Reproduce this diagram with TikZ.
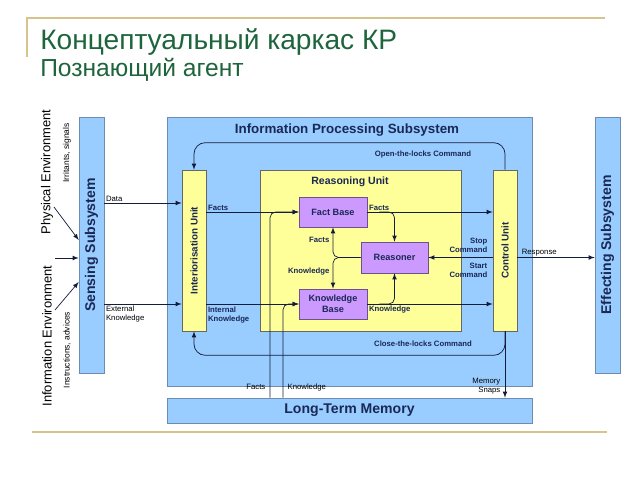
\documentclass[tikz,border=0pt]{standalone}
\usepackage{fontspec}
\setmainfont{Liberation Sans}
\usetikzlibrary{arrows,positioning}
\definecolor{ipsblue}{RGB}{153,204,255}
\definecolor{boxline}{RGB}{110,140,175}
\definecolor{unityellow}{RGB}{255,255,153}
\definecolor{basepurple}{RGB}{204,153,255}
\definecolor{purpleline}{RGB}{110,80,140}
\definecolor{navy}{RGB}{25,40,85}
\definecolor{linecol}{RGB}{20,30,60}
\definecolor{gold}{RGB}{214,196,140}
\definecolor{titlegreen}{RGB}{30,100,60}

\begin{document}
\begin{tikzpicture}[x=0.025cm, y=-0.025cm,
    blk/.style={draw=boxline, fill=ipsblue, inner sep=0pt},
    unit/.style={draw=gray!80!black, fill=unityellow, inner sep=0pt},
    base/.style={draw=purpleline, fill=basepurple, inner sep=0pt, align=center,
        text=navy, font=\bfseries\fontsize{6.5}{7.6}\selectfont},
    arr/.style={-latex, line width=0.5pt, draw=linecol},
    lbl/.style={inner sep=1pt, align=left, text=navy, font=\bfseries\fontsize{5.5}{6.4}\selectfont},
    note/.style={inner sep=1pt, align=left, font=\fontsize{5.5}{6.5}\selectfont},
    env/.style={rotate=90, inner sep=0pt, font=\fontsize{9.2}{11}\selectfont},
    subenv/.style={rotate=90, inner sep=0pt, font=\fontsize{6}{7}\selectfont}]
    \useasboundingbox (0,0) rectangle (640,480);

    % heading
    \draw [gold, line width=1.2pt] (27,57) -- (27,18) -- (605,18);
    \node (title) [anchor=base west, inner sep=0pt, text=titlegreen,
        font=\fontsize{20}{23}\selectfont] at (40,50) {Концептуальный каркас КР};
    \node (subtitle) [anchor=base west, inner sep=0pt, text=titlegreen,
        font=\fontsize{17.5}{20}\selectfont] at (40,76) {Познающий агент};
    \draw [gold, line width=1.2pt] (32,432) -- (607,432);

    % subsystems
    \node (sens) [blk, minimum width=0.625cm, minimum height=6.4cm] at (91.5,245) {};
    \node [rotate=90, font=\bfseries\fontsize{10}{12}\selectfont, text=navy] at (sens) {Sensing Subsystem};
    \node (ips) [blk, minimum width=9.125cm, minimum height=6.725cm] at (349.5,251.5) {};
    \node [font=\bfseries\fontsize{9.5}{11}\selectfont, text=navy] at (347,130) {Information Processing Subsystem};
    \node (eff) [blk, minimum width=0.625cm, minimum height=6.4cm] at (607.5,245) {};
    \node [rotate=90, font=\bfseries\fontsize{10}{12}\selectfont, text=navy] at (eff) {Effecting Subsystem};
    \node (ltm) [blk, minimum width=9.125cm, minimum height=0.625cm,
        font=\bfseries\fontsize{10}{12}\selectfont, text=navy] at (349.5,410.5) {Long-Term Memory};

    % units
    \node (int) [unit, minimum width=0.6cm, minimum height=4.025cm] at (194,250.5) {};
    \node [rotate=90, font=\bfseries\fontsize{7}{8}\selectfont, text=navy] at (int) {Interiorisation Unit};
    \node (ctrl) [unit, minimum width=0.6cm, minimum height=4.025cm] at (505,250.5) {};
    \node [rotate=90, font=\bfseries\fontsize{7}{8}\selectfont, text=navy] at (ctrl) {Control Unit};
    \node (reas) [unit, minimum width=5.025cm, minimum height=4.025cm] at (360.5,250.5) {};
    \node [font=\bfseries\fontsize{7.5}{9}\selectfont, text=navy] at (350,182) {Reasoning Unit};

    \node (fb) [base, minimum width=1.7cm, minimum height=0.75cm] at (333,212) {Fact Base};
    \node (rsn) [base, minimum width=1.675cm, minimum height=0.775cm] at (394.5,257.5) {Reasoner};
    \node (kb) [base, minimum width=1.7cm, minimum height=0.75cm] at (333,304) {Knowledge\\Base};

    % environment
    \node [env] at (47,172) {Physical Environment};
    \node [subenv] at (67,153) {Irritants, signals};
    \node [env] at (47,336) {Information Environment};
    \node [subenv] at (67,350) {Instructions, advices};
    \coordinate (pe) at (54,207);
    \coordinate (me) at (55,258);
    \coordinate (ie) at (55,310);
    \draw [arr] (pe) -- (sens.west |- 0,240);
    \draw [arr] (me) -- (sens.west |- me);
    \draw [arr] (ie) -- (sens.west |- 0,282);

    % flows
    \draw [arr] (sens.east |- 0,203) -- (int.west |- 0,203)
        node [note, pos=0, anchor=south west] {Data};
    \draw [arr] (sens.east |- kb) -- (int.west |- kb)
        node [note, pos=0, anchor=north west] {External\\Knowledge};
    \draw [arr] (int.east |- fb) -- (fb.west)
        node [lbl, pos=0, anchor=south west] {Facts};
    \draw [arr] (int.east |- kb) -- (kb.west)
        node [lbl, pos=0, anchor=north west, yshift=-1pt] {Internal\\Knowledge};
    \draw [arr] (fb.east) -- (ctrl.west |- fb)
        node [lbl, pos=0, anchor=south west] {Facts};
    \draw [arr] (kb.east) -- (ctrl.west |- kb)
        node [lbl, pos=0, anchor=north west] {Knowledge};
    \draw [arr, rounded corners=4pt] ([xshift=0.3cm]fb.east) -| (rsn.north);
    \draw [arr, rounded corners=4pt] ([xshift=0.3cm]kb.east) -| (rsn.south);
    \draw [arr, rounded corners=4pt] (rsn.west) -| (fb.south);
    \draw [arr, rounded corners=4pt] (rsn.west) -| (kb.north);
    \node [lbl, anchor=east] at (331,240) {Facts};
    \node [lbl, anchor=east] at (331,272) {Knowledge};
    \draw [arr] (ctrl.west |- rsn) -- (rsn.east);
    \node [lbl, align=right, anchor=south east] at (489,254) {Stop\\Command};
    \node [lbl, align=right, anchor=north east] at (489,261) {Start\\Command};
    \draw [arr] (ctrl.east |- rsn) -- (eff.west |- rsn)
        node [note, pos=0, anchor=south west, xshift=2pt] {Response};

    % locks and memory
    \draw [arr, rounded corners=8pt] (ctrl.north) -- ++(0,-27) -| (int.north);
    \node [lbl] at (423,154) {Open-the-locks Command};
    \draw [arr, rounded corners=8pt] (ctrl.south) -- ++(0,24) -| (int.south);
    \node [lbl] at (423,344) {Close-the-locks Command};
    \draw [arr] (ctrl.south) -- (ltm.north -| ctrl.south);
    \node [note, align=right, anchor=east] at (502,386) {Memory\\Snaps};
    \draw [arr, rounded corners=4pt] (ltm.north -| 270,0) |- (fb.west);
    \draw [arr, rounded corners=4pt] (ltm.north -| 283,0) |- (kb.west);
    \node [note, anchor=east] at (267,387) {Facts};
    \node [note, anchor=west] at (286,387) {Knowledge};
\end{tikzpicture}
\end{document}
